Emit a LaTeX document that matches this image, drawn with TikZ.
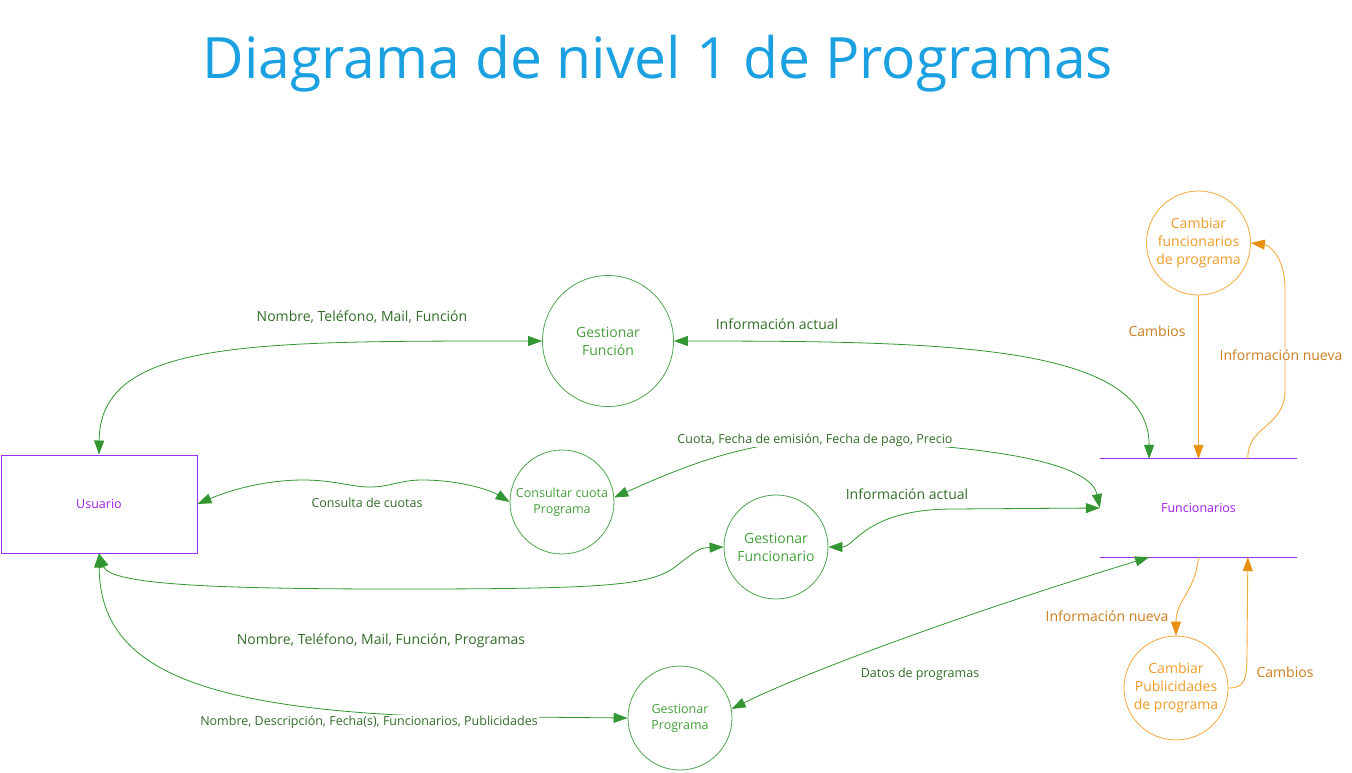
\documentclass[tikz,border=0pt]{standalone}
\usepackage{fontspec}
\setmainfont{Open Sans}
\usetikzlibrary{arrows.meta,calc}
\definecolor{gline}{RGB}{50,150,50}
\definecolor{gcirc}{RGB}{80,165,80}
\definecolor{gtext}{RGB}{50,110,40}
\definecolor{gnode}{RGB}{70,160,60}
\definecolor{pline}{RGB}{155,45,240}
\definecolor{ptext}{RGB}{160,30,235}
\definecolor{oline}{RGB}{245,170,60}
\definecolor{oarrow}{RGB}{232,144,16}
\definecolor{otext}{RGB}{205,125,30}
\definecolor{onode}{RGB}{240,155,40}
\definecolor{tblue}{RGB}{27,161,226}
\begin{document}
\begin{tikzpicture}[x=1pt,y=-1pt,
  gproc/.style={circle,draw=gcirc,line width=0.8pt,inner sep=0pt,minimum size=104pt,text=gnode,align=center,font=\fontsize{12.5}{16}\selectfont},
  gprocbig/.style={gproc,font=\fontsize{14}{18}\selectfont},
  oproc/.style={circle,draw=oline,line width=0.8pt,inner sep=0pt,minimum size=104pt,text=onode,align=center,font=\fontsize{14}{18}\selectfont},
  tip/.tip={Triangle[length=14pt,width=10pt]},
  gflow/.style={draw=gline,line width=0.8pt,tip-tip},
  oflow/.style={draw=oline,line width=0.9pt,-{Triangle[length=14pt,width=10pt,color=oarrow]}},
  glbl/.style={text=gtext,font=\fontsize{14}{17}\selectfont,inner sep=1pt},
  glbls/.style={text=gtext,font=\fontsize{12.5}{15}\selectfont,inner sep=1pt},
  olbl/.style={text=otext,font=\fontsize{14}{17}\selectfont,inner sep=1pt},
  wbg/.style={fill=white}
]
\fill[white] (0,0) rectangle (1352,772);
\useasboundingbox (0,0) rectangle (1352,772);

% title
\node[text=tblue,font=\fontsize{57}{60}\selectfont] (title) at (658,64) {Diagrama de nivel 1 de Programas};

% entity and data store
\node[draw=pline,line width=1pt,minimum width=196pt,minimum height=98pt,inner sep=0pt,text=ptext,font=\fontsize{12.5}{15}\selectfont] (U) at (99,504) {Usuario};
\node[minimum width=197pt,minimum height=98pt,inner sep=0pt,text=ptext,font=\fontsize{12.5}{15}\selectfont] (F) at (1198.5,508) {Funcionarios};
\draw[pline,line width=1pt] (F.north west) -- (F.north east);
\draw[pline,line width=1pt] (F.south west) -- (F.south east);
\coordinate (Ft1) at ($(F.north west)!0.25!(F.north east)$);
\coordinate (Ft2) at ($(F.north west)!0.5!(F.north east)$);
\coordinate (Ft3) at ($(F.north west)!0.75!(F.north east)$);
\coordinate (Fb1) at ($(F.south west)!0.25!(F.south east)$);
\coordinate (Fb2) at ($(F.south west)!0.5!(F.south east)$);
\coordinate (Fb3) at ($(F.south west)!0.75!(F.south east)$);

% processes
\node[gprocbig,minimum size=131pt] (GF) at (608,341) {Gestionar\\Función};
\node[gproc] (CQ) at (562,502) {Consultar cuota\\Programa};
\node[gprocbig] (GFn) at (776,547) {Gestionar\\Funcionario};
\node[gproc] (GP) at (680,718) {Gestionar\\Programa};
\node[oproc] (CF) at (1198.5,243) {Cambiar\\funcionarios\\de programa};
\node[oproc] (CP) at (1176,688) {Cambiar\\Publicidades\\de programa};

% green flows
\draw[gflow] (U.north) .. controls (100,340) and (250,341) .. (GF.west);
\draw[gflow] (GF.east) .. controls (950,341) and (1149,345) .. (Ft1);
\draw[gflow] (CQ.5) .. controls (680,468) and (740,443) .. (815,440)
   node[glbls,wbg] (lc) {Cuota, Fecha de emisión, Fecha de pago, Precio}
   .. controls (1030,445) and (1092,470) .. (F.west);
\draw[gflow] (U.east) .. controls (235,488) and (270,480) .. (303,480)
   .. controls (335,480) and (350,487) .. (370,487)
   .. controls (390,487) and (400,480) .. (422,480)
   .. controls (460,480) and (490,490) .. (CQ.west);
\draw[gflow] (U.south) .. controls (110,585) and (220,589) .. (400,589) .. controls (620,589) and (655,585) .. (680,563) .. controls (700,548) .. (GFn.west);
\draw[gflow] (GFn.east) .. controls (855,547) and (865,510) .. (950,509) -- (F.west);
\draw[gflow] (U.south) .. controls (100,660) and (180,706) .. (420,716) -- (GP.west);
\draw[gflow] (GP.10) .. controls (800,675) and (950,618) .. (Fb1);

% orange flows
\draw[oflow] (CF.south) -- (Ft2);
\draw[oflow] (Ft3) .. controls (1247,425) and (1285,428) .. (1285,390) -- (1285,290) .. controls (1285,255) and (1268,245) .. (CF.east);
\draw[oflow] (Fb2) .. controls (1195,592) and (1176,600) .. (CP.north);
\draw[oflow] (CP.east) .. controls (1245,688) and (1247,680) .. (1247,650) -- (Fb3);

% labels
\node[glbl] (l1) at (362,317) {Nombre, Teléfono, Mail, Función};
\node[glbl] (l2) at (777,324) {Información actual};
\node[glbls] (l3) at (367,503) {Consulta de cuotas};
\node[glbl] (l4) at (907,494) {Información actual};
\node[glbl] (l5) at (381,641) {Nombre, Teléfono, Mail, Función, Programas};
\node[glbls,wbg] (l6) at (369,722) {Nombre, Descripción, Fecha(s), Funcionarios, Publicidades};
\node[glbls] (l7) at (920,674) {Datos de programas};
\node[olbl] (l8) at (1157,331) {Cambios};
\node[olbl,wbg] (l9) at (1281,355) {Información nueva};
\node[olbl] (l10) at (1107,616) {Información nueva};
\node[olbl] (l11) at (1285,672) {Cambios};
\end{tikzpicture}
\end{document}
